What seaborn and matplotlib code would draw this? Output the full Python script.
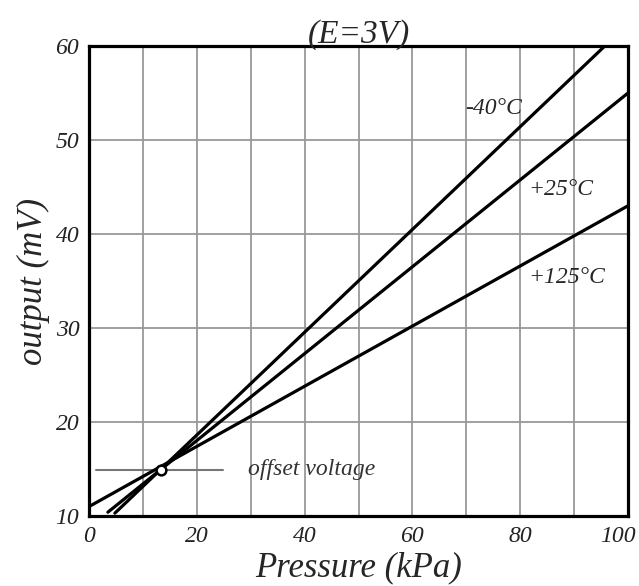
import numpy as np
import pandas as pd
import matplotlib
matplotlib.use("Agg")
import matplotlib.pyplot as plt
import matplotlib.transforms as mtransforms
import seaborn as sns

# --- data ---
temps = ['-40°C', '+25°C', '+125°C']
pressure_m40 = [4.8, 95.7]
output_m40 = [10.3, 60.0]
pressure_25 = [3.5, 100.0]
output_25 = [10.4, 55.0]
pressure_125 = [0.0, 100.0]
output_125 = [11.0, 43.0]

offset_p = 13.3
offset_v = 14.9
offset_span = [1.3, 24.8]

label_pos = {'-40°C': (69.8, 53.4), '+25°C': (81.5, 44.7), '+125°C': (81.5, 35.4)}

df = pd.concat([
    pd.DataFrame({'pressure': pressure_m40, 'output': output_m40, 'temp': temps[0]}),
    pd.DataFrame({'pressure': pressure_25, 'output': output_25, 'temp': temps[1]}),
    pd.DataFrame({'pressure': pressure_125, 'output': output_125, 'temp': temps[2]}),
])

sns.set_style('white')
plt.rcParams['font.family'] = ['Liberation Serif', 'DejaVu Serif']

fig = plt.figure(figsize=(6.39, 5.86), dpi=100)
ax = fig.add_axes([0.1393, 0.1195, 0.8435, 0.802])

# grid
for g in range(10, 100, 10):
    ax.axvline(g, color='#999999', lw=1.3, zorder=0)
for g in range(20, 60, 10):
    ax.axhline(g, color='#999999', lw=1.3, zorder=0)

sns.lineplot(data=df, x='pressure', y='output', hue='temp',
             palette=['black'] * 3, lw=2.3, legend=False, ax=ax, zorder=3)

# offset voltage marker
ax.plot(offset_span, [offset_v, offset_v], color='#777777', lw=1.5, zorder=2)
ax.plot([offset_p], [offset_v], marker='o', ms=7, mfc='white', mec='black',
        mew=1.8, zorder=5)
ax.text(29.5, offset_v, 'offset voltage', style='italic', fontsize=17,
        va='center', ha='left', color='#333333')

for t in temps:
    x, y = label_pos[t]
    ax.text(x, y, t, style='italic', fontsize=17, va='center', ha='left')

ax.set_xlim(0, 100)
ax.set_ylim(10, 60)
ax.set_xticks(range(0, 101, 20))
ax.set_xticks(range(5, 100, 10), minor=True)
ax.set_yticks(range(10, 61, 10))
ax.set_yticks(range(15, 60, 10), minor=True)
ax.tick_params(which='major', direction='out', length=5, width=1.5,
               labelsize=17, colors='#222222', pad=2)
ax.tick_params(which='minor', direction='out', length=3, width=1.2)
for lab in ax.get_xticklabels() + ax.get_yticklabels():
    lab.set_style('italic')

# nudge the last x label so it stays inside the figure
last = ax.get_xticklabels()[-1]
last.set_transform(last.get_transform() +
                   mtransforms.ScaledTranslation(-0.1, 0, fig.dpi_scale_trans))

for s in ax.spines.values():
    s.set_linewidth(2.3)
    s.set_color('black')

ax.set_xlabel('Pressure (kPa)', fontsize=25, style='italic', labelpad=3)
ax.set_ylabel('output (mV)', fontsize=25, style='italic', labelpad=4)
ax.set_title('(E=3V)', fontsize=24, style='italic', pad=2)

fig.savefig('out.png', dpi=100)
